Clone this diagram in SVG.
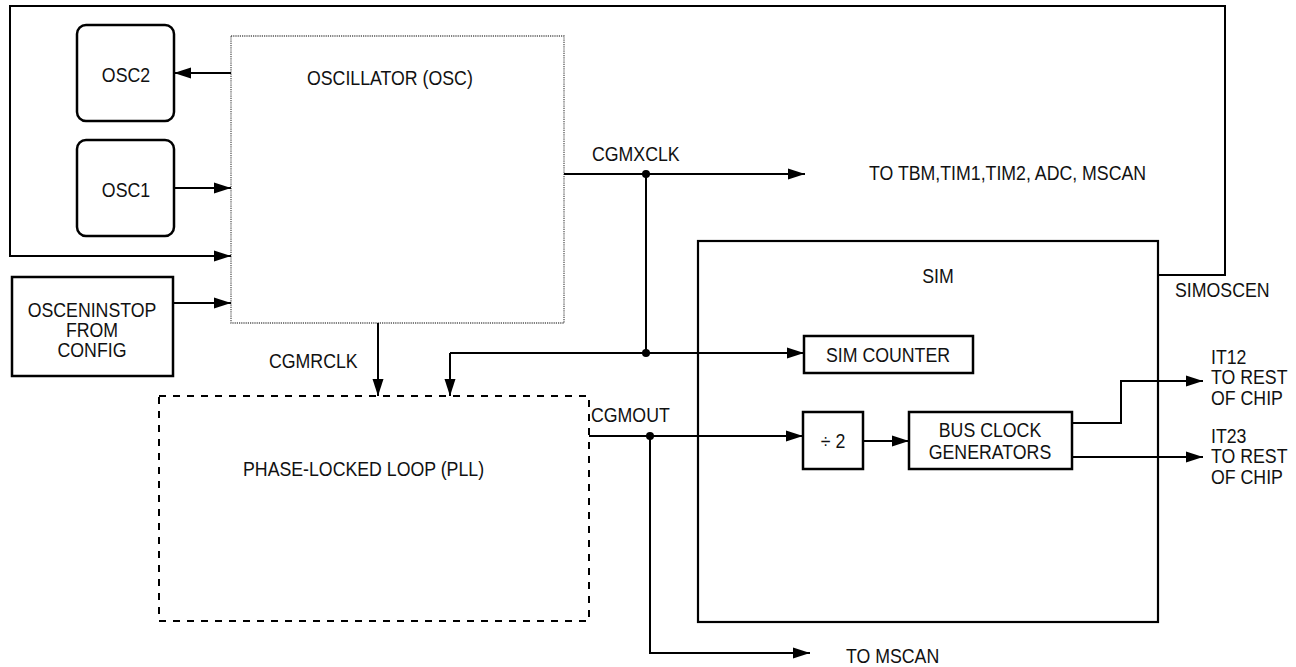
<svg xmlns="http://www.w3.org/2000/svg" width="1296" height="667" viewBox="0 0 1296 667">
<style>
text{font-family:"Liberation Sans",Arial,sans-serif;font-size:19.5px;fill:#111}
.c{text-anchor:middle}
.box{fill:#fff;stroke:#000;stroke-width:2.5}
.ln{fill:none;stroke:#000;stroke-width:2}
.osc{fill:#fff;stroke:#555;stroke-width:1.3;stroke-dasharray:1.2 1}
.pll{fill:none;stroke:#000;stroke-width:2;stroke-dasharray:7 7}
.dot{fill:#000}
</style>
<defs>
<marker id="ah" markerUnits="userSpaceOnUse" markerWidth="18" markerHeight="12" refX="17" refY="6" orient="auto">
<path d="M0,0.5 L17,6 L0,11.5 z" fill="#000"/>
</marker>
</defs>
<rect width="1296" height="667" fill="#fff"/>

<g id="osc">
<rect class="osc" x="231" y="36" width="333" height="287"/>
<text transform="translate(307 85) scale(.91 1)">OSCILLATOR (OSC)</text>
</g>
<g id="osc2">
<rect class="box" x="77" y="25" width="97" height="96" rx="9"/>
<text class="c" transform="translate(126 82) scale(.91 1)">OSC2</text>
</g>
<g id="osc1">
<rect class="box" x="77" y="140" width="97" height="96" rx="9"/>
<text class="c" transform="translate(126 197) scale(.91 1)">OSC1</text>
</g>
<g id="oscen">
<rect class="box" x="12" y="277" width="161" height="99"/>
<text class="c" transform="translate(92 317) scale(.91 1)">OSCENINSTOP</text>
<text class="c" transform="translate(92 337) scale(.91 1)">FROM</text>
<text class="c" transform="translate(92 357) scale(.91 1)">CONFIG</text>
</g>
<g id="pll">
<rect class="pll" x="159" y="396" width="430" height="225"/>
<text transform="translate(243 476) scale(.91 1)">PHASE-LOCKED LOOP (PLL)</text>
</g>
<g id="sim">
<rect class="box" x="698" y="241" width="460" height="381" style="stroke-width:2.2"/>
<text class="c" transform="translate(938 283) scale(.91 1)">SIM</text>
</g>
<g id="simcounter">
<rect class="box" x="804" y="336" width="169" height="37"/>
<text class="c" transform="translate(888 362) scale(.91 1)">SIM COUNTER</text>
</g>
<g id="div2">
<rect class="box" x="803" y="412" width="60" height="57"/>
<text class="c" transform="translate(833 448) scale(.91 1)">÷ 2</text>
</g>
<g id="busclk">
<rect class="box" x="909" y="412" width="163" height="57"/>
<text class="c" transform="translate(990 437) scale(.91 1)">BUS CLOCK</text>
<text class="c" transform="translate(990 459) scale(.91 1)">GENERATORS</text>
</g>

<g id="connectors">
<path class="ln" d="M1158,275 H1225 V6 H10 V256 H231" marker-end="url(#ah)"/>
<path class="ln" d="M231,73 H174" marker-end="url(#ah)"/>
<path class="ln" d="M174,188 H231" marker-end="url(#ah)"/>
<path class="ln" d="M173,303 H231" marker-end="url(#ah)"/>
<path class="ln" d="M378,323 V396" marker-end="url(#ah)"/>
<path class="ln" d="M564,174 H805" marker-end="url(#ah)"/>
<path class="ln" d="M646,174 V353"/>
<path class="ln" d="M450,353 H804" marker-end="url(#ah)"/>
<path class="ln" d="M450,353 V396" marker-end="url(#ah)"/>
<path class="ln" d="M589,436 H803" marker-end="url(#ah)"/>
<path class="ln" d="M650,436 V653 H810" marker-end="url(#ah)"/>
<path class="ln" d="M863,441 H909" marker-end="url(#ah)"/>
<path class="ln" d="M1072,423 H1121 V381 H1203" marker-end="url(#ah)"/>
<path class="ln" d="M1072,457 H1203" marker-end="url(#ah)"/>
<circle class="dot" cx="646" cy="174" r="4"/>
<circle class="dot" cx="646" cy="353" r="4"/>
<circle class="dot" cx="650" cy="436" r="4"/>
</g>

<g id="labels">
<text transform="translate(592 161) scale(.91 1)">CGMXCLK</text>
<text transform="translate(869 180) scale(.91 1)">TO TBM,TIM1,TIM2, ADC, MSCAN</text>
<text transform="translate(269 368) scale(.91 1)">CGMRCLK</text>
<text transform="translate(591 422) scale(.91 1)">CGMOUT</text>
<text transform="translate(1175 297) scale(.91 1)">SIMOSCEN</text>
<text transform="translate(1211 364) scale(.91 1)">IT12</text>
<text transform="translate(1211 384) scale(.91 1)">TO REST</text>
<text transform="translate(1211 405) scale(.91 1)">OF CHIP</text>
<text transform="translate(1211 443) scale(.91 1)">IT23</text>
<text transform="translate(1211 463) scale(.91 1)">TO REST</text>
<text transform="translate(1211 484) scale(.91 1)">OF CHIP</text>
<text transform="translate(846 663) scale(.91 1)">TO MSCAN</text>
</g>
</svg>
